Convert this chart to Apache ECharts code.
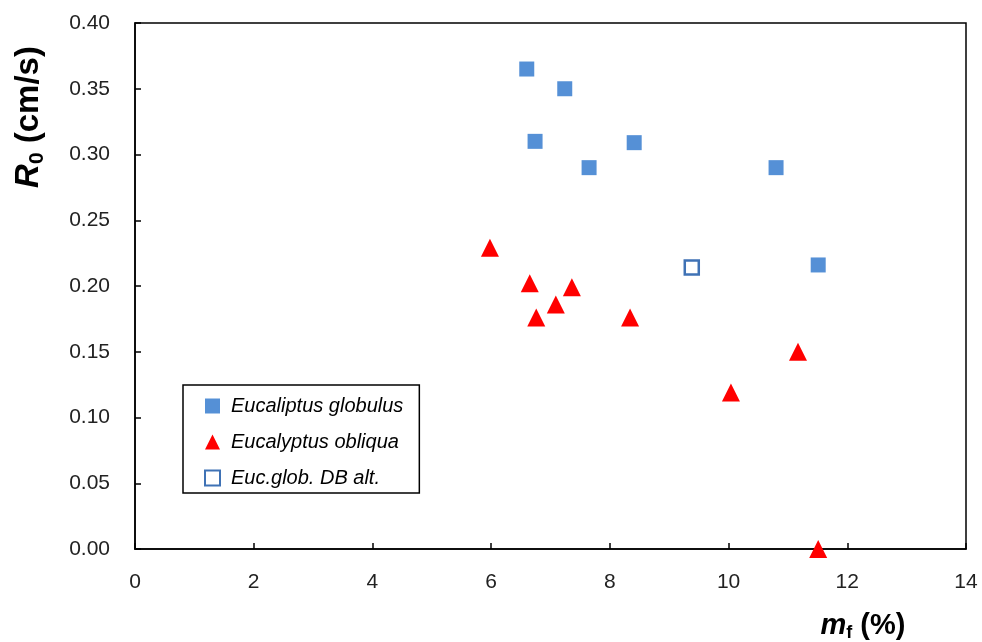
<!DOCTYPE html>
<html>
<head>
<meta charset="utf-8">
<script src="https://cdn.jsdelivr.net/npm/echarts@6/dist/echarts.min.js"></script>
<style>
  html, body { margin: 0; padding: 0; background: #fff; }
  #chart { width: 982px; height: 642px; }
</style>
</head>
<body>
<div id="chart"></div>
<script>
// Moisture content mf (%) vs. rate of spread R0 (cm/s)
const globulusMf = [6.60, 7.24, 6.74, 7.65, 8.41, 10.80, 11.51];
const globulusR0 = [0.365, 0.350, 0.310, 0.290, 0.309, 0.290, 0.216];

const obliquaMf = [5.98, 6.65, 6.76, 7.09, 7.36, 8.34, 10.04, 11.17, 11.51];
const obliquaR0 = [0.229, 0.202, 0.176, 0.186, 0.199, 0.176, 0.119, 0.150, 0.000];

const dbAltMf = [9.38];
const dbAltR0 = [0.214];

const seriesNames = ['Eucaliptus globulus', 'Eucalyptus obliqua', 'Euc.glob. DB alt.'];

const xTicks = [0, 2, 4, 6, 8, 10, 12, 14];
const yTicks = [0, 0.05, 0.10, 0.15, 0.20, 0.25, 0.30, 0.35, 0.40];

const pairs = (xs, ys) => xs.map((x, i) => [x, ys[i]]);

const FONT = '"Liberation Sans", Arial, sans-serif';
const chart = echarts.init(document.getElementById('chart'), null, { renderer: 'canvas' });

chart.setOption({
  animation: false,
  backgroundColor: '#ffffff',
  grid: { left: 135, top: 23, width: 831, height: 526, show: true, borderColor: '#000', borderWidth: 1.5, backgroundColor: 'transparent' },
  xAxis: {
    type: 'value',
    min: xTicks[0], max: xTicks[xTicks.length - 1], interval: 2,
    axisLine: { show: true, lineStyle: { color: '#000', width: 1.5 } },
    axisTick: { show: true, inside: true, length: 6, lineStyle: { color: '#000', width: 1.5 } },
    axisLabel: { color: '#222', fontSize: 21, fontFamily: FONT, margin: 23 },
    splitLine: { show: false }
  },
  yAxis: {
    type: 'value',
    min: yTicks[0], max: yTicks[yTicks.length - 1], interval: 0.05,
    axisLine: { show: true, lineStyle: { color: '#000', width: 1.5 } },
    axisTick: { show: true, inside: true, length: 6, lineStyle: { color: '#000', width: 1.5 } },
    axisLabel: { color: '#222', fontSize: 21, fontFamily: FONT, margin: 25, formatter: v => v.toFixed(2) },
    splitLine: { show: false }
  },
  legend: {
    left: 183, top: 385, orient: 'vertical',
    padding: [11, 16, 5, 21],
    itemGap: 16,
    itemWidth: 15, itemHeight: 15,
    borderColor: '#000', borderWidth: 1.5,
    backgroundColor: '#fff',
    textStyle: { fontFamily: FONT, fontSize: 20, fontStyle: 'italic', color: '#000', padding: [0, 0, 0, 6] },
    data: [
      { name: seriesNames[0], icon: 'rect' },
      { name: seriesNames[1], icon: 'triangle' },
      { name: seriesNames[2], icon: 'rect' }
    ]
  },
  series: [
    {
      name: seriesNames[0], type: 'scatter', symbol: 'rect', symbolSize: 15,
      itemStyle: { color: '#5590d6', opacity: 1 },
      data: pairs(globulusMf, globulusR0)
    },
    {
      name: seriesNames[1], type: 'scatter', symbol: 'triangle', symbolSize: 18,
      itemStyle: { color: '#ff0000', opacity: 1 },
      data: pairs(obliquaMf, obliquaR0)
    },
    {
      name: seriesNames[2], type: 'scatter', symbol: 'rect', symbolSize: 14,
      itemStyle: { color: '#ffffff', borderColor: '#3f72b5', borderWidth: 2.5, opacity: 1 },
      data: pairs(dbAltMf, dbAltR0)
    }
  ],
  graphic: [
    {
      type: 'text', x: 29, y: 117, rotation: Math.PI / 2,
      style: {
        text: '{r|R}{s|0}{t| (cm/s)}',
        align: 'center', verticalAlign: 'middle',
        rich: {
          r: { fontFamily: FONT, fontSize: 33, fontWeight: 'bold', fontStyle: 'italic', fill: '#000', verticalAlign: 'bottom' },
          s: { fontFamily: FONT, fontSize: 21, fontWeight: 'bold', fill: '#000', verticalAlign: 'bottom', padding: [0, 0, -2, 0] },
          t: { fontFamily: FONT, fontSize: 33, fontWeight: 'bold', fill: '#000', verticalAlign: 'bottom' }
        }
      }
    },
    {
      type: 'text', x: 863, y: 626,
      style: {
        text: '{m|m}{s|f}{t| (%)}',
        align: 'center', verticalAlign: 'middle',
        rich: {
          m: { fontFamily: FONT, fontSize: 29, fontWeight: 'bold', fontStyle: 'italic', fill: '#000', verticalAlign: 'bottom' },
          s: { fontFamily: FONT, fontSize: 18, fontWeight: 'bold', fill: '#000', verticalAlign: 'bottom', padding: [0, 0, -2, 0] },
          t: { fontFamily: FONT, fontSize: 29, fontWeight: 'bold', fill: '#000', verticalAlign: 'bottom' }
        }
      }
    }
  ]
});
</script>
</body>
</html>
